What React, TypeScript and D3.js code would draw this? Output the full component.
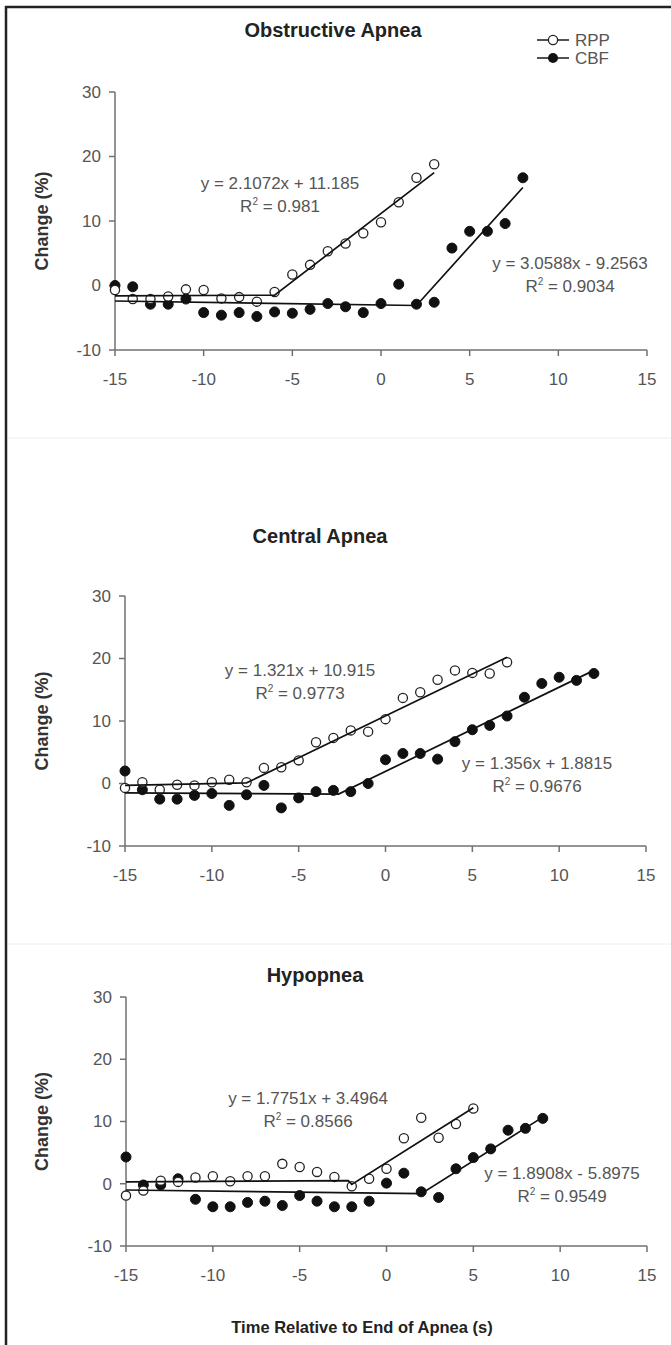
import React from 'react';
import * as d3 from 'd3';

// time relative to end of apnea (s)
const seconds = [-15, -14, -13, -12, -11, -10, -9, -8, -7, -6, -5, -4, -3, -2, -1, 0, 1, 2, 3, 4, 5, 6, 7, 8, 9, 10, 11, 12];
const xTicks = [-15, -10, -5, 0, 5, 10, 15];
const yTicks = [-10, 0, 10, 20, 30];

// Obstructive apnea
const obsRpp = [-0.7, -2.1, -2.1, -1.7, -0.6, -0.7, -2.0, -1.8, -2.5, -1.0, 1.7, 3.2, 5.3, 6.5, 8.1, 9.8, 12.9, 16.7, 18.8];
const obsCbf = [0, -0.2, -2.9, -2.9, -2.1, -4.2, -4.6, -4.2, -4.8, -4.1, -4.3, -3.7, -2.8, -3.3, -4.2, -2.8, 0.2, -2.9, -2.6, 5.8, 8.4, 8.4, 9.6, 16.7];
const obsRppFit: [number, number][] = [[-15, -1.6], [-6, -1.5], [3, 17.5]];
const obsCbfFit: [number, number][] = [[-15, -2.4], [2, -3.1], [8, 15.2]];
const obsRppEq = ['y = 2.1072x + 11.185', 'R2 = 0.981'];
const obsCbfEq = ['y = 3.0588x - 9.2563', 'R2 = 0.9034'];

// Central apnea
const cenRpp = [-0.7, 0.2, -1.0, -0.2, -0.3, 0.2, 0.6, 0.2, 2.5, 2.6, 3.7, 6.6, 7.3, 8.5, 8.3, 10.3, 13.7, 14.6, 16.6, 18.1, 17.7, 17.6, 19.4];
const cenCbf = [2.0, -1.0, -2.5, -2.5, -1.9, -1.6, -3.5, -1.8, -0.3, -3.9, -2.3, -1.3, -1.1, -1.3, 0, 3.8, 4.8, 4.8, 3.9, 6.7, 8.6, 9.3, 10.8, 13.8, 16.0, 17.0, 16.5, 17.6];
const cenRppFit: [number, number][] = [[-15, -0.3], [-8, 0.1], [7, 20.2]];
const cenCbfFit: [number, number][] = [[-15, -1.5], [-2.7, -1.7], [12, 18.1]];
const cenRppEq = ['y = 1.321x + 10.915', 'R2 = 0.9773'];
const cenCbfEq = ['y = 1.356x + 1.8815', 'R2 = 0.9676'];

// Hypopnea
const hypRpp = [-1.9, -1.1, 0.5, 0.3, 1.0, 1.2, 0.4, 1.2, 1.2, 3.2, 2.7, 1.9, 1.1, -0.4, 0.8, 2.4, 7.3, 10.6, 7.4, 9.6, 12.1];
const hypCbf = [4.3, -0.2, -0.2, 0.8, -2.5, -3.7, -3.7, -3.0, -2.8, -3.5, -1.9, -2.8, -3.7, -3.7, -2.8, 0.1, 1.7, -1.3, -2.2, 2.4, 4.2, 5.6, 8.6, 8.9, 10.5];
const hypRppFit: [number, number][] = [[-15, 0.3], [-2.2, 0.5], [-2, -0.1], [5, 12.2]];
const hypCbfFit: [number, number][] = [[-15, -1.0], [2, -1.6], [9, 10.7]];
const hypRppEq = ['y = 1.7751x + 3.4964', 'R2 = 0.8566'];
const hypCbfEq = ['y = 1.8908x - 5.8975', 'R2 = 0.9549'];

const FONT = '"Liberation Sans", Arial, sans-serif';
const GREY = '#555';

const panels = [
  {
    title: 'Obstructive Apnea', titleX: 333, titleY: 37, left: 115, right: 647, top: 92, bottom: 350,
    rpp: obsRpp, cbf: obsCbf, rppFit: obsRppFit, cbfFit: obsCbfFit,
    eqs: [{ text: obsRppEq, x: 280, y: 183 }, { text: obsCbfEq, x: 570, y: 263 }],
    legend: true,
  },
  {
    title: 'Central Apnea', titleX: 320, titleY: 543, left: 125, right: 646, top: 596, bottom: 846,
    rpp: cenRpp, cbf: cenCbf, rppFit: cenRppFit, cbfFit: cenCbfFit,
    eqs: [{ text: cenRppEq, x: 300, y: 670 }, { text: cenCbfEq, x: 537, y: 763 }],
    legend: false,
  },
  {
    title: 'Hypopnea', titleX: 315, titleY: 982, left: 126, right: 647, top: 997, bottom: 1246,
    rpp: hypRpp, cbf: hypCbf, rppFit: hypRppFit, cbfFit: hypCbfFit,
    eqs: [{ text: hypRppEq, x: 308, y: 1098 }, { text: hypCbfEq, x: 562, y: 1173 }],
    legend: false,
  },
];

const Eq = ({ lines, x, y }: { lines: string[]; x: number; y: number }) => {
  const r2 = lines[1].replace('R2', '');
  return (
    <g fontFamily={FONT} fontSize={17} fill={GREY} textAnchor="middle">
      <text x={x} y={y} dy="0.35em">{lines[0]}</text>
      <text x={x} y={y + 23} dy="0.35em">
        R<tspan fontSize={10} dy={-7}>2</tspan><tspan dy={7}>{r2}</tspan>
      </text>
    </g>
  );
};

const Panel = ({ p }: { p: (typeof panels)[number] }) => {
  const x = d3.scaleLinear().domain([-15, 15]).range([p.left, p.right]);
  const y = d3.scaleLinear().domain([-10, 30]).range([p.bottom, p.top]);
  const line = d3.line<[number, number]>().x((d) => x(d[0])).y((d) => y(d[1]));
  const mid = (p.top + p.bottom) / 2;
  return (
    <g>
      <text x={p.titleX} y={p.titleY} textAnchor="middle" fontFamily={FONT} fontWeight="bold" fontSize={20} fill="#222">
        {p.title}
      </text>
      <text transform={`translate(48,${mid}) rotate(-90)`} textAnchor="middle" fontFamily={FONT} fontWeight="bold" fontSize={18} fill="#333">
        Change (%)
      </text>
      {/* axes */}
      <g stroke="#707070" strokeWidth={1.5} fill="none">
        <line x1={p.left} x2={p.left} y1={p.top} y2={p.bottom} />
        <line x1={p.left} x2={p.right} y1={p.bottom} y2={p.bottom} />
        {yTicks.map((t) => (
          <line key={'y' + t} x1={p.left - 6} x2={p.left} y1={y(t)} y2={y(t)} />
        ))}
        {xTicks.map((t) => (
          <line key={'x' + t} x1={x(t)} x2={x(t)} y1={p.bottom} y2={p.bottom + 6} />
        ))}
      </g>
      <g fontFamily={FONT} fontSize={17} fill={GREY}>
        {yTicks.map((t) => (
          <text key={'yl' + t} x={p.left - 14} y={y(t)} dy="0.35em" textAnchor="end">{t}</text>
        ))}
        {xTicks.map((t) => (
          <text key={'xl' + t} x={x(t)} y={p.bottom + 29} dy="0.35em" textAnchor="middle">{t}</text>
        ))}
      </g>
      {/* markers */}
      {p.cbf.map((v, i) => (
        <circle key={'c' + i} cx={x(seconds[i])} cy={y(v)} r={5} fill="#111" stroke="#111" strokeWidth={1} />
      ))}
      {p.rpp.map((v, i) => (
        <circle key={'r' + i} cx={x(seconds[i])} cy={y(v)} r={4.6} fill="#fff" stroke="#222" strokeWidth={1.3} />
      ))}
      {/* fitted segments */}
      <path d={line(p.rppFit) || ''} fill="none" stroke="#111" strokeWidth={1.7} />
      <path d={line(p.cbfFit) || ''} fill="none" stroke="#111" strokeWidth={1.7} />
      {p.eqs.map((e, i) => (
        <Eq key={i} lines={e.text} x={e.x} y={e.y} />
      ))}
      {p.legend && (
        <g fontFamily={FONT} fontSize={17} fill={GREY}>
          <line x1={537} x2={569} y1={40} y2={40} stroke="#333" strokeWidth={1.7} />
          <circle cx={553} cy={40} r={4.6} fill="#fff" stroke="#222" strokeWidth={1.3} />
          <text x={575} y={40} dy="0.35em">RPP</text>
          <line x1={537} x2={569} y1={58} y2={58} stroke="#333" strokeWidth={1.7} />
          <circle cx={553} cy={58} r={5} fill="#111" />
          <text x={575} y={58} dy="0.35em">CBF</text>
        </g>
      )}
    </g>
  );
};

export default function App() {
  return (
    <div style={{ position: 'absolute', left: 0, top: 0 }}>
      <svg width={671} height={1345} style={{ display: 'block', background: '#fff' }}>
        {/* frame */}
        <line x1={6} x2={6} y1={6} y2={1345} stroke="#222" strokeWidth={2.5} />
        <line x1={5} x2={671} y1={7} y2={7} stroke="#222" strokeWidth={2.5} />
        <line x1={8} x2={671} y1={438} y2={438} stroke="#eee" strokeWidth={1} />
        <line x1={8} x2={671} y1={944} y2={944} stroke="#eee" strokeWidth={1} />
        {panels.map((p) => (
          <Panel key={p.title} p={p} />
        ))}
        <text x={362} y={1333} textAnchor="middle" fontFamily={FONT} fontWeight="bold" fontSize={16.5} fill="#222">
          Time Relative to End of Apnea (s)
        </text>
      </svg>
    </div>
  );
}
